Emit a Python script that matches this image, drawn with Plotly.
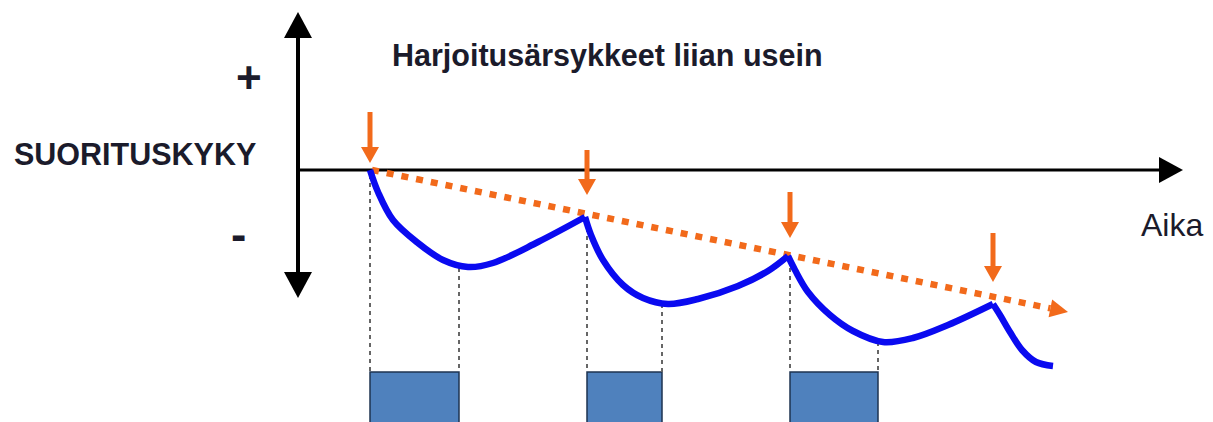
import math
import plotly.graph_objects as go

# ---------------- data (time t, performance p; origin at axes crossing) ----------------
# Blue performance curve, one list per stimulus cycle
seg_t = [
    [72, 80, 95, 120, 145, 170, 195, 240, 287],
    [287, 293, 305, 325, 345, 370, 400, 440, 470, 490],
    [490, 497, 510, 532, 555, 585, 615, 650, 695],
    [695, 702, 712, 724, 738, 755],
]
seg_p = [
    [0, -22, -50, -73, -90, -97, -93, -72, -47],
    [-47, -65, -90, -115, -128, -134, -129, -116, -101, -86],
    [-86, -100, -122, -145, -161, -172, -168, -155, -134],
    [-134, -145, -162, -180, -192, -196],
]

# Orange declining trend (start, arrow tip)
trend_t = [74, 770]
trend_p = [0, -142]

# Training stimuli (orange arrows): time, arrow top, arrow tip
stim_t = [72, 289, 492, 695]
stim_top = [58, 20, -22, -63]
stim_tip = [7, -25, -68, -112]

# Recovery periods (blue boxes)
box_start = [72, 289, 492]
box_end = [161, 364, 580]
box_top = -202

# Dotted guide lines: time, start level (on curve)
guide_t = [72, 161, 289, 364, 492, 580]
guide_p = [-5, -98, -50, -134, -90, -172]

# Axes
y_axis_top, y_axis_bottom = 158, -128
x_axis_end = 885

# page body has an 8px margin -> ranges compensate so the drawing lands where intended
X_RANGE = [-290, 923]
Y_RANGE = [-260, 162]

BLUE = "#0A0AF0"
ORANGE = "#F26A1B"
BOX = "#4F81BD"
FONT = "Liberation Sans, Arial, sans-serif"
TXT = "#1B1B2B"

fig = go.Figure()
shapes = []


def tri(tip_x, tip_y, dx, dy, half):
    # triangle with tip at (tip_x, tip_y); (dx, dy) points from base to tip
    L = math.hypot(dx, dy)
    ux, uy = dx / L, dy / L
    bx, by = tip_x - ux * L, tip_y - uy * L
    nx, ny = -uy, ux
    return (f"M {tip_x},{tip_y} L {bx + nx * half},{by + ny * half} "
            f"L {bx - nx * half},{by - ny * half} Z")


# recovery boxes
for s, e in zip(box_start, box_end):
    shapes.append(dict(type="rect", x0=s, x1=e, y0=box_top, y1=Y_RANGE[0] - 10,
                       fillcolor=BOX, line=dict(color="#1E3350", width=1.5), layer="below"))

# dotted guide lines
for t, p in zip(guide_t, guide_p):
    fig.add_trace(go.Scatter(x=[t, t], y=[p, box_top], mode="lines",
                             line=dict(color="#666666", width=2, dash="4px,4px"),
                             hoverinfo="skip", showlegend=False))

# axes lines
fig.add_trace(go.Scatter(x=[0, 0], y=[y_axis_top - 20, y_axis_bottom + 20], mode="lines",
                         line=dict(color="black", width=4), hoverinfo="skip", showlegend=False))
fig.add_trace(go.Scatter(x=[0, x_axis_end - 20], y=[0, 0], mode="lines",
                         line=dict(color="black", width=3), hoverinfo="skip", showlegend=False))
shapes.append(dict(type="path", path=tri(0, y_axis_top, 0, 26, 14), fillcolor="black",
                   line=dict(width=0)))
shapes.append(dict(type="path", path=tri(0, y_axis_bottom, 0, -26, 14), fillcolor="black",
                   line=dict(width=0)))
shapes.append(dict(type="path", path=tri(x_axis_end, 0, 24, 0, 13), fillcolor="black",
                   line=dict(width=0)))

# trend line (dotted) with arrow head
dx = trend_t[1] - trend_t[0]
dy = trend_p[1] - trend_p[0]
L = math.hypot(dx, dy)
head = 18
end_t = trend_t[1] - dx / L * head
end_p = trend_p[1] - dy / L * head
fig.add_trace(go.Scatter(x=[trend_t[0], end_t], y=[trend_p[0], end_p], mode="lines",
                         line=dict(color=ORANGE, width=6.5, dash="7px,8px"),
                         hoverinfo="skip", showlegend=False))
shapes.append(dict(type="path", path=tri(trend_t[1], trend_p[1], dx / L * head, dy / L * head, 9),
                   fillcolor=ORANGE, line=dict(width=0)))

# blue curve
for ts, ps in zip(seg_t, seg_p):
    fig.add_trace(go.Scatter(x=ts, y=ps, mode="lines",
                             line=dict(color=BLUE, width=6.5, shape="spline", smoothing=1.0),
                             hoverinfo="skip", showlegend=False))

# stimulus arrows (pointing down)
for t, top, tip in zip(stim_t, stim_top, stim_tip):
    fig.add_trace(go.Scatter(x=[t, t], y=[top, tip + 12], mode="lines",
                             line=dict(color=ORANGE, width=5), hoverinfo="skip", showlegend=False))
    shapes.append(dict(type="path", path=tri(t, tip, 0, -16, 9), fillcolor=ORANGE,
                       line=dict(width=0)))

annotations = [
    dict(x=309, y=115, text="<b>Harjoitusärsykkeet liian usein</b>", font=dict(size=30.5)),
    dict(x=-163, y=16, text="<b>SUORITUSKYKY</b>", font=dict(size=30.5)),
    dict(x=-49, y=93, text="<b>+</b>", font=dict(size=44)),
    dict(x=-60, y=-64, text="<b>-</b>", font=dict(size=46)),
    dict(x=874, y=-55, text="Aika", font=dict(size=32)),
]
for a in annotations:
    a.update(showarrow=False, xref="x", yref="y", xanchor="center", yanchor="middle")
    a["font"].update(family=FONT, color=TXT)

fig.update_layout(
    width=1213, height=422,
    margin=dict(l=0, r=0, t=0, b=0),
    paper_bgcolor="white", plot_bgcolor="white",
    xaxis=dict(range=X_RANGE, visible=False, fixedrange=True),
    yaxis=dict(range=Y_RANGE, visible=False, fixedrange=True),
    shapes=shapes, annotations=annotations,
    showlegend=False,
)

fig.write_html("out.html")
